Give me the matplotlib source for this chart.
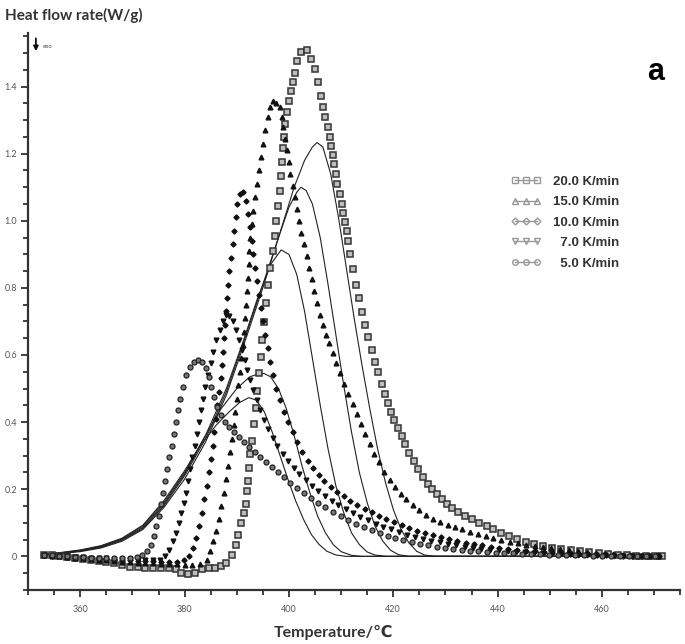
import matplotlib.pyplot as plt
from matplotlib.lines import Line2D
from matplotlib.ticker import MultipleLocator, FuncFormatter

# --- experimental curves (markers) ---
# 20 K/min
t20 = [353.0, 354.5, 356.0, 357.5, 359.0, 360.5, 362.0, 363.5, 365.0, 366.5, 368.0, 369.5, 371.0, 372.5,
       374.0, 375.5, 377.0, 378.3, 379.3, 380.7, 382.0, 383.3, 384.6, 385.9, 387.0, 388.0, 389.0, 389.8,
       390.3, 390.8, 391.3, 391.7, 391.9, 392.1, 392.3, 392.5, 392.9, 393.3, 393.7, 393.9, 394.3, 394.6,
       394.9, 395.3, 395.6, 396.0, 396.4, 396.9, 397.3, 397.6, 397.9, 398.2, 398.5, 398.7, 398.9, 399.1,
       399.3, 399.6, 400.0, 400.4, 400.7, 401.2, 401.6, 402.3, 403.5, 404.2, 405.0, 405.6, 406.2, 406.6,
       407.0, 407.4, 407.8, 408.1, 408.4, 408.7, 409.0, 409.3, 409.7, 410.1, 410.4, 410.8, 411.1, 411.4,
       411.8, 412.2, 412.9, 413.5, 414.0, 414.6, 415.2, 415.9, 416.5, 417.1, 417.8, 418.4, 419.0, 419.6,
       420.2, 420.9, 421.6, 422.3, 423.1, 423.9, 424.8, 425.7, 426.6, 427.5, 428.4, 429.3, 430.3, 431.3,
       432.5, 433.8, 435.1, 436.5, 437.9, 439.2, 440.7, 442.2, 443.8, 445.4, 447.0, 448.7, 450.4, 452.2,
       454.0, 455.8, 457.6, 459.4, 461.2, 463.0, 464.8, 466.6, 468.4, 470.2, 471.5]
q20 = [0.005, 0.003, 0.001, -0.002, -0.005, -0.008, -0.011, -0.014, -0.017, -0.021, -0.026, -0.031, -0.033, -0.034,
       -0.035, -0.036, -0.036, -0.038, -0.05, -0.052, -0.05, -0.038, -0.036, -0.035, -0.03, -0.02, 0.005, 0.035,
       0.065, 0.1, 0.13, 0.156, 0.195, 0.225, 0.263, 0.305, 0.344, 0.395, 0.443, 0.494, 0.545, 0.593,
       0.644, 0.698, 0.754, 0.808, 0.86, 0.91, 0.955, 1.0, 1.045, 1.09, 1.132, 1.174, 1.216, 1.251,
       1.287, 1.323, 1.356, 1.386, 1.413, 1.44, 1.476, 1.503, 1.509, 1.482, 1.452, 1.413, 1.371, 1.34,
       1.31, 1.28, 1.25, 1.222, 1.195, 1.168, 1.14, 1.11, 1.08, 1.05, 1.024, 0.997, 0.97, 0.94,
       0.9, 0.855, 0.808, 0.769, 0.728, 0.689, 0.653, 0.614, 0.58, 0.548, 0.515, 0.485, 0.458, 0.431,
       0.407, 0.383, 0.359, 0.335, 0.308, 0.284, 0.26, 0.237, 0.216, 0.2, 0.186, 0.171, 0.156, 0.144,
       0.132, 0.12, 0.11, 0.099, 0.09, 0.081, 0.069, 0.06, 0.051, 0.043, 0.037, 0.031, 0.026, 0.022,
       0.018, 0.015, 0.012, 0.009, 0.007, 0.005, 0.004, 0.002, 0.001, 0.0, 0.0]

# 15 K/min
t15 = [353.0, 354.5, 356.0, 357.5, 359.0, 360.5, 362.0, 363.5, 365.0, 366.5, 368.0, 369.5, 371.0, 372.5,
       374.0, 375.5, 377.0, 378.5, 380.0, 381.5, 383.0, 384.2, 384.9, 385.4, 386.0, 386.5, 387.0, 387.5,
       387.9, 388.3, 388.7, 389.0, 389.4, 389.7, 390.0, 390.3, 390.6, 390.9, 391.1, 391.4, 391.6, 391.8,
       392.0, 392.1, 392.3, 392.4, 392.6, 392.9, 393.2, 393.5, 393.8, 394.2, 394.6, 395.0, 395.4, 395.9,
       396.4, 396.9, 397.6, 398.2, 398.6, 398.9, 399.3, 399.6, 400.0, 400.3, 400.7, 401.1, 401.5, 401.9,
       402.4, 402.9, 403.4, 403.9, 404.4, 404.9, 405.4, 405.9, 406.5, 407.1, 407.7, 408.4, 409.1, 409.8,
       410.6, 411.4, 412.2, 413.0, 413.8, 414.6, 415.5, 416.4, 417.3, 418.3, 419.3, 420.3, 421.4, 422.5,
       423.7, 425.0, 426.3, 427.6, 429.0, 430.4, 431.8, 433.2, 434.7, 436.2, 437.7, 439.2, 440.7, 442.3,
       443.9, 445.5, 447.1, 448.7, 450.3, 452.0, 453.7, 455.4, 457.1, 458.8, 460.5, 462.2, 463.9, 465.6,
       467.3, 469.0, 470.7]
q15 = [0.004, 0.002, 0.0, -0.002, -0.004, -0.006, -0.008, -0.01, -0.012, -0.014, -0.016, -0.018, -0.019, -0.02,
       -0.021, -0.022, -0.023, -0.024, -0.025, -0.025, -0.022, -0.01, 0.015, 0.045, 0.075, 0.11, 0.15, 0.19,
       0.23, 0.27, 0.31, 0.35, 0.39, 0.43, 0.47, 0.51, 0.55, 0.59, 0.63, 0.67, 0.71, 0.75,
       0.79, 0.83, 0.87, 0.91, 0.95, 0.99, 1.03, 1.07, 1.11, 1.15, 1.19, 1.23, 1.27, 1.31,
       1.34, 1.356, 1.352, 1.34, 1.31, 1.28, 1.245, 1.21, 1.175, 1.14, 1.105, 1.07, 1.035, 1.0,
       0.965, 0.93, 0.895, 0.86, 0.825, 0.79, 0.755, 0.72, 0.69, 0.66, 0.635, 0.605, 0.575, 0.545,
       0.515, 0.485, 0.455, 0.425, 0.395, 0.365, 0.335, 0.305, 0.28, 0.25, 0.228, 0.207, 0.186, 0.17,
       0.152, 0.137, 0.122, 0.112, 0.102, 0.094, 0.087, 0.08, 0.073, 0.066, 0.06, 0.054, 0.049, 0.044,
       0.039, 0.035, 0.031, 0.028, 0.025, 0.021, 0.018, 0.015, 0.012, 0.01, 0.008, 0.006, 0.004, 0.003,
       0.002, 0.001, 0.0]

# 10 K/min
t10 = [353.0, 354.5, 356.0, 357.5, 359.0, 360.5, 362.0, 363.5, 365.0, 366.5, 368.0, 369.5, 371.0, 372.5,
       374.0, 375.5, 377.0, 378.5, 379.8, 380.8, 381.6, 382.2, 382.8, 383.3, 383.8, 384.2, 384.6, 385.0,
       385.4, 385.7, 386.0, 386.3, 386.6, 386.9, 387.1, 387.4, 387.6, 387.8, 388.0, 388.2, 388.4, 388.6,
       388.9, 389.2, 389.5, 389.8, 390.1, 390.6, 391.2, 391.8, 392.2, 392.6, 392.9, 393.2, 393.5, 393.8,
       394.2, 394.6, 395.0, 395.4, 395.9, 396.4, 397.0, 397.6, 398.3, 399.0, 399.8, 400.7, 401.6, 402.6,
       403.6, 404.6, 405.7, 406.8, 408.0, 409.2, 410.5, 411.8, 413.1, 414.5, 415.9, 417.3, 418.7, 420.1,
       421.6, 423.1, 424.6, 426.1, 427.6, 429.1, 430.7, 432.3, 433.9, 435.5, 437.1, 438.7, 440.3, 442.0,
       443.7, 445.4, 447.1, 448.8, 450.5, 452.2, 453.9, 455.6, 457.3, 459.0, 460.7, 462.4, 464.1, 465.8,
       467.5, 469.2, 470.9]
q10 = [0.004, 0.002, 0.0, -0.002, -0.004, -0.005, -0.006, -0.008, -0.009, -0.01, -0.011, -0.012, -0.013, -0.014,
       -0.015, -0.016, -0.017, -0.017, -0.012, 0.0, 0.025, 0.055, 0.09, 0.13, 0.17, 0.21, 0.25, 0.29,
       0.33, 0.37, 0.41, 0.45, 0.49, 0.53, 0.57, 0.61, 0.65, 0.69, 0.73, 0.77, 0.81, 0.85,
       0.89, 0.93, 0.97, 1.01, 1.05, 1.08, 1.085, 1.06, 1.02, 0.98, 0.94, 0.9, 0.86, 0.82,
       0.78, 0.74, 0.7, 0.66, 0.62, 0.58, 0.54, 0.5, 0.465, 0.43, 0.4, 0.37, 0.34, 0.31,
       0.285, 0.262, 0.242, 0.224, 0.208, 0.193, 0.179, 0.166, 0.154, 0.142, 0.131, 0.121, 0.111, 0.102,
       0.093, 0.085, 0.077, 0.07, 0.063, 0.057, 0.051, 0.046, 0.041, 0.037, 0.033, 0.029, 0.026, 0.023,
       0.02, 0.017, 0.015, 0.013, 0.011, 0.009, 0.008, 0.007, 0.006, 0.005, 0.004, 0.003, 0.002, 0.002,
       0.001, 0.0, 0.0]

# 7 K/min
t7 = [353.0, 354.5, 356.0, 357.5, 359.0, 360.5, 362.0, 363.5, 365.0, 366.5, 368.0, 369.5, 371.0, 372.5,
      374.0, 375.3, 376.3, 377.1, 377.8, 378.4, 378.9, 379.4, 379.9, 380.3, 380.7, 381.1, 381.5, 381.9,
      382.3, 382.7, 383.1, 383.5, 384.0, 384.5, 385.0, 385.5, 386.1, 386.7, 387.3, 387.9, 388.6, 389.3,
      389.9, 390.5, 391.0, 391.5, 392.0, 392.6, 393.2, 393.8, 394.5, 395.2, 396.0, 396.9, 397.8, 398.8,
      399.8, 400.9, 402.0, 403.2, 404.4, 405.6, 406.9, 408.2, 409.5, 410.9, 412.3, 413.7, 415.1, 416.6,
      418.1, 419.6, 421.1, 422.6, 424.1, 425.7, 427.3, 428.9, 430.5, 432.1, 433.7, 435.3, 436.9, 438.5,
      440.2, 441.9, 443.6, 445.3, 447.0, 448.7, 450.4, 452.1, 453.8, 455.5, 457.2, 458.9, 460.6, 462.3,
      464.0, 465.7, 467.4, 469.1, 470.8]
q7 = [0.004, 0.002, 0.001, 0.0, -0.002, -0.003, -0.004, -0.005, -0.006, -0.007, -0.008, -0.009, -0.01, -0.011,
      -0.012, -0.01, 0.0, 0.02, 0.045, 0.07, 0.1, 0.13, 0.16, 0.19, 0.225, 0.26, 0.295, 0.33,
      0.365, 0.4, 0.435, 0.47, 0.505, 0.54, 0.575, 0.61, 0.645, 0.675, 0.7, 0.72, 0.715, 0.7,
      0.675, 0.645, 0.615, 0.585, 0.555, 0.525, 0.495, 0.465, 0.435, 0.405, 0.378, 0.352, 0.328, 0.305,
      0.284, 0.264, 0.245, 0.227, 0.21, 0.194, 0.179, 0.165, 0.152, 0.14, 0.128, 0.117, 0.107, 0.097,
      0.088, 0.08, 0.072, 0.065, 0.058, 0.052, 0.047, 0.042, 0.037, 0.033, 0.029, 0.026, 0.023, 0.02,
      0.018, 0.016, 0.014, 0.012, 0.01, 0.009, 0.008, 0.007, 0.006, 0.005, 0.004, 0.003, 0.003, 0.002,
      0.002, 0.001, 0.001, 0.0, 0.0]

# 5 K/min
t5 = [353.0, 354.5, 356.0, 357.5, 359.0, 360.5, 362.0, 363.5, 365.0, 366.5, 368.0, 369.5, 370.8, 371.9,
      372.8, 373.5, 374.1, 374.6, 375.1, 375.5, 375.9, 376.3, 376.7, 377.1, 377.5, 377.9, 378.3, 378.7,
      379.2, 379.7, 380.3, 381.0, 381.8, 382.6, 383.4, 384.1, 384.6, 385.1, 385.6, 386.2, 386.9, 387.7,
      388.6, 389.5, 390.4, 391.4, 392.4, 393.4, 394.5, 395.6, 396.7, 397.9, 399.1, 400.3, 401.6, 402.9,
      404.2, 405.6, 407.0, 408.4, 409.9, 411.4, 412.9, 414.4, 415.9, 417.4, 418.9, 420.4, 421.9, 423.5,
      425.1, 426.7, 428.3, 429.9, 431.5, 433.1, 434.7, 436.3, 437.9, 439.6, 441.3, 443.0, 444.7, 446.4,
      448.1, 449.8, 451.5, 453.2, 454.9, 456.6, 458.3, 460.0, 461.7, 463.4, 465.1, 466.8, 468.5, 470.2]
q5 = [0.005, 0.003, 0.002, 0.0, -0.002, -0.003, -0.004, -0.005, -0.006, -0.006, -0.006, -0.005, -0.003, 0.003,
      0.015, 0.035, 0.06, 0.09, 0.12, 0.155, 0.19, 0.225, 0.26, 0.295, 0.33, 0.365, 0.4, 0.435,
      0.47, 0.505, 0.54, 0.565, 0.58, 0.585, 0.578, 0.56, 0.535, 0.505, 0.475, 0.445, 0.42, 0.4,
      0.385, 0.37, 0.355, 0.34, 0.325, 0.31, 0.295, 0.28, 0.265, 0.25, 0.235, 0.22, 0.205, 0.19,
      0.175, 0.16, 0.146, 0.133, 0.12, 0.108, 0.097, 0.087, 0.078, 0.07, 0.062, 0.055, 0.049, 0.043,
      0.038, 0.033, 0.029, 0.025, 0.022, 0.019, 0.017, 0.015, 0.013, 0.011, 0.01, 0.009, 0.008, 0.007,
      0.006, 0.005, 0.004, 0.004, 0.003, 0.003, 0.002, 0.002, 0.001, 0.001, 0.001, 0.0, 0.0, 0.0]

# --- fitted curves (solid lines) ---
tf20 = [353, 356, 360, 364, 368, 372, 376, 380, 384, 388, 392, 395, 398, 401, 403, 404.5, 405.4, 406.5,
        408, 409.5, 411, 412.5, 414, 415.5, 417, 418.5, 420, 421.5, 423, 424.5, 426, 428, 471]
yf20 = [0.004, 0.008, 0.014, 0.025, 0.045, 0.08, 0.145, 0.23, 0.34, 0.48, 0.66, 0.8, 0.95, 1.1, 1.18, 1.22, 1.233, 1.22,
        1.14, 1.01, 0.86, 0.71, 0.57, 0.44, 0.32, 0.22, 0.14, 0.08, 0.04, 0.015, 0.004, 0.0, 0.0]
tf15 = [353, 356, 360, 364, 368, 372, 376, 380, 384, 388, 392, 395, 398, 400, 401.5, 402.3, 403.3, 404.5,
        406, 407.5, 409, 410.5, 412, 413.5, 415, 416.5, 418, 419.5, 421, 423, 471]
yf15 = [0.005, 0.009, 0.016, 0.027, 0.048, 0.083, 0.15, 0.24, 0.35, 0.49, 0.67, 0.81, 0.95, 1.04, 1.085, 1.1, 1.09, 1.05,
        0.95, 0.81, 0.66, 0.51, 0.37, 0.25, 0.16, 0.09, 0.045, 0.018, 0.005, 0.0, 0.0]
tf10 = [353, 356, 360, 364, 368, 372, 376, 380, 384, 388, 391, 394, 396.5, 398.5, 400, 401.5, 403, 404.5,
        406, 407.5, 409, 410.5, 412, 413.5, 415, 416.5, 418.5, 471]
yf10 = [0.005, 0.009, 0.017, 0.029, 0.05, 0.086, 0.155, 0.245, 0.36, 0.5, 0.63, 0.77, 0.87, 0.913, 0.9, 0.84, 0.73, 0.59,
        0.45, 0.32, 0.21, 0.13, 0.07, 0.035, 0.013, 0.004, 0.0, 0.0]
tf7 = [353, 356, 360, 364, 368, 372, 376, 380, 384, 387, 390, 392.5, 394, 395.2, 396.5, 398, 399.5, 401,
       402.5, 404, 405.5, 407, 408.5, 410, 412, 414, 471]
yf7 = [0.006, 0.01, 0.018, 0.03, 0.052, 0.09, 0.16, 0.25, 0.36, 0.44, 0.5, 0.535, 0.543, 0.545, 0.535, 0.5, 0.44, 0.36,
       0.27, 0.19, 0.12, 0.07, 0.035, 0.014, 0.003, 0.0, 0.0]
tf5 = [353, 356, 360, 364, 368, 372, 376, 380, 383, 386, 388.5, 390.5, 392.3, 393.8, 395.3, 396.8, 398.3, 399.8,
       401.3, 402.8, 404.3, 405.8, 407.3, 409, 411, 471]
yf5 = [0.006, 0.011, 0.019, 0.032, 0.054, 0.093, 0.165, 0.255, 0.33, 0.39, 0.43, 0.458, 0.473, 0.465, 0.43, 0.37, 0.3, 0.23,
       0.165, 0.11, 0.065, 0.035, 0.015, 0.004, 0.0, 0.0]

labels = ['20.0 K/min', '15.0 K/min', '10.0 K/min', '  7.0 K/min', '  5.0 K/min']

fig = plt.figure(figsize=(6.85, 6.44), dpi=100)
ax = fig.add_axes([0.041, 0.084, 0.952, 0.865])

# fits
for tf, yf in [(tf20, yf20), (tf15, yf15), (tf10, yf10), (tf7, yf7), (tf5, yf5)]:
    ax.plot(tf, yf, color='#222222', lw=0.8)

# experimental points
ax.plot(t20, q20, ls='none', marker='s', ms=4.2, mfc='#bdbdbd', mec='#333333', mew=1.1)
ax.plot(t15, q15, ls='none', marker='^', ms=3.4, color='#111111')
ax.plot(t10, q10, ls='none', marker='D', ms=2.6, color='#111111')
ax.plot(t7, q7, ls='none', marker='v', ms=3.4, color='#111111')
ax.plot(t5, q5, ls='none', marker='o', ms=3.6, mfc='#777777', mec='#222222', mew=0.9)

ax.set_xlim(350, 475)
ax.set_ylim(-0.1, 1.56)
ax.spines['top'].set_visible(False)
ax.spines['right'].set_visible(False)
for s in ['left', 'bottom']:
    ax.spines[s].set_linewidth(1.6)
    ax.spines[s].set_color('#333333')

ax.xaxis.set_minor_locator(MultipleLocator(5))
ax.yaxis.set_minor_locator(MultipleLocator(0.05))
ax.set_xticks([360, 380, 400, 420, 440, 460])
ax.set_yticks([0, 0.2, 0.4, 0.6, 0.8, 1.0, 1.2, 1.4])
ax.yaxis.set_major_formatter(FuncFormatter(lambda v, p: '0' if abs(v) < 1e-9 else f'{v:.1f}'))
ax.tick_params(which='both', direction='out', color='#333333', width=1.3, labelsize=6.5, labelcolor='#555555')
ax.tick_params(which='major', length=5)
ax.tick_params(axis='x', which='major', pad=6)
ax.tick_params(axis='y', which='major', pad=3)
ax.tick_params(which='minor', length=3.5)
for lab in ax.get_xticklabels() + ax.get_yticklabels():
    lab.set_family('Lato')

ax.set_xlabel('Temperature/℃', fontsize=11.5, fontweight='bold', color='#333333', labelpad=8,
              family=['Lato', 'DejaVu Sans'], x=0.468)
fig.text(0.008, 0.976, 'Heat flow rate(W/g)', fontsize=11, fontweight='bold', color='#333333',
         ha='left', va='center', family='Lato')
ax.text(0.962, 0.93, 'a', transform=ax.transAxes, fontsize=22, fontweight='bold',
        family='Liberation Sans', ha='center', va='center')

# exo arrow
ax.annotate('', xy=(0.012, 0.962), xytext=(0.012, 0.995), xycoords='axes fraction',
            arrowprops=dict(arrowstyle='-|>', color='#111111', lw=1.3, mutation_scale=7))
ax.text(0.022, 0.975, 'exo', transform=ax.transAxes, fontsize=4, color='#444444', va='center')

handles = [Line2D([], [], color='#999999', lw=1, marker='s', ms=4, mfc='none', mec='#999999'),
           Line2D([], [], color='#999999', lw=1, marker='^', ms=4, mfc='none', mec='#999999'),
           Line2D([], [], color='#999999', lw=1, marker='D', ms=3.5, mfc='none', mec='#999999'),
           Line2D([], [], color='#999999', lw=1, marker='v', ms=4, mfc='none', mec='#999999'),
           Line2D([], [], color='#999999', lw=1, marker='o', ms=4, mfc='none', mec='#999999')]
leg = ax.legend(handles, labels, loc='upper left', bbox_to_anchor=(0.722, 0.765), frameon=False,
                numpoints=3, handlelength=2.3, handletextpad=0.9, labelspacing=0.62,
                prop={'weight': 'bold', 'size': 9.5, 'family': 'Liberation Sans'})
for txt in leg.get_texts():
    txt.set_color('#333333')

fig.savefig('out.png', dpi=100)
